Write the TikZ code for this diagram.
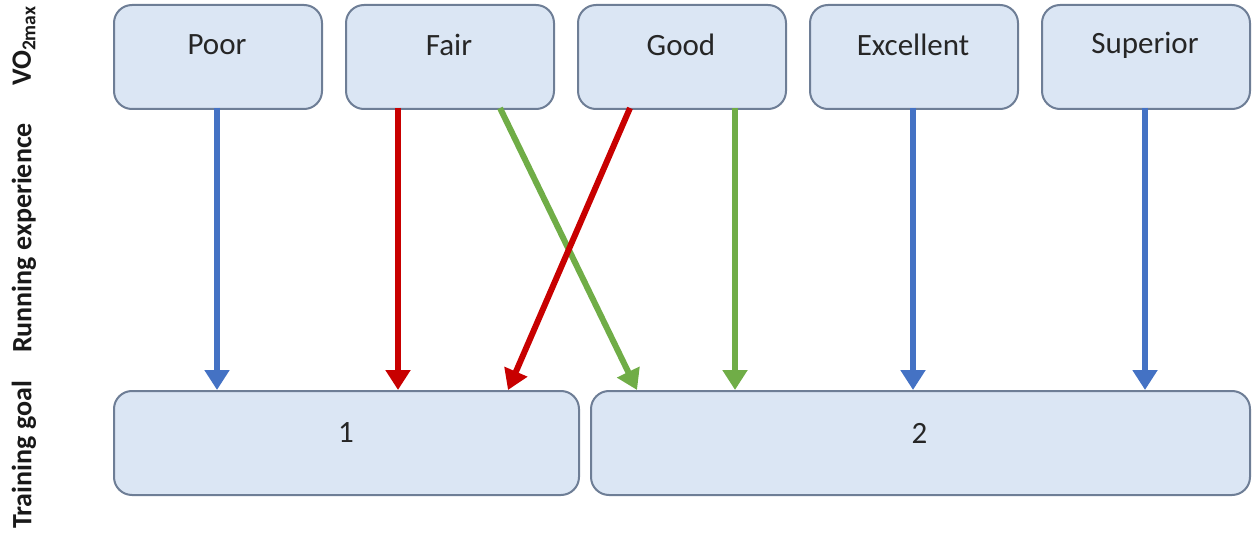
\documentclass[tikz,border=0pt]{standalone}
\usepackage{fontspec}
\setmainfont{Carlito}
\usetikzlibrary{arrows.meta}
\definecolor{boxfill}{RGB}{219,230,244}
\definecolor{boxdraw}{RGB}{110,126,150}
\definecolor{ablue}{RGB}{68,114,196}
\definecolor{ared}{RGB}{200,0,0}
\definecolor{agreen}{RGB}{112,173,71}
\tikzset{
  box/.style={draw=boxdraw, fill=boxfill, line width=2pt, rounded corners=18pt, minimum height=104pt, anchor=north west, inner sep=0pt},
  topbox/.style={box, minimum width=208pt},
  lbl/.style={font=\fontsize{31}{36}\selectfont, text=black!85},
  side/.style={font=\fontsize{28}{32}\selectfont\bfseries, rotate=90, text=black!90},
  conn/.style={line width=6pt, -{Triangle[width=24pt,length=20pt]}},
}
\begin{document}
\begin{tikzpicture}[x=1pt,y=-1pt]
\useasboundingbox (0,0) rectangle (1253,540);
\node[topbox] (poor) at (113,4) {};
\node[topbox] (fair) at (345,4) {};
\node[topbox] (good) at (577,4) {};
\node[topbox] (exc) at (809,4) {};
\node[topbox] (sup) at (1041,4) {};
\node[lbl] (tpoor) at (217,45) {Poor};
\node[lbl] (tfair) at (449,45) {Fair};
\node[lbl] (tgood) at (681,45) {Good};
\node[lbl] (texc) at (913,45) {Excellent};
\node[lbl] (tsup) at (1145,45) {Superior};
\node[box, minimum width=465pt] (g1) at (113,390) {};
\node[box, minimum width=659pt] (g2) at (590,390) {};
\node[lbl] (t1) at (346,433) {1};
\node[lbl] (t2) at (919.5,433) {2};
\node[side] (s1) at (24,46) {VO\textsubscript{2max}};
\node[side] (s2) at (24,238) {Running experience};
\node[side] (s3) at (24,455) {Training goal};
\coordinate (p1) at (217,108); \coordinate (q1) at (217,390);
\coordinate (p2) at (398,108); \coordinate (q2) at (398,390);
\coordinate (p3) at (500,108); \coordinate (q3) at (637,390);
\coordinate (p4) at (630,108); \coordinate (q4) at (508,390);
\coordinate (p5) at (735,108); \coordinate (q5) at (735,390);
\coordinate (p6) at (913,108); \coordinate (q6) at (913,390);
\coordinate (p7) at (1145,108); \coordinate (q7) at (1145,390);
\draw[conn, ablue] (p1) -- (q1);
\draw[conn, ared] (p2) -- (q2);
\draw[conn, agreen] (p3) -- (q3);
\draw[conn, ared] (p4) -- (q4);
\draw[conn, agreen] (p5) -- (q5);
\draw[conn, ablue] (p6) -- (q6);
\draw[conn, ablue] (p7) -- (q7);
\end{tikzpicture}
\end{document}
